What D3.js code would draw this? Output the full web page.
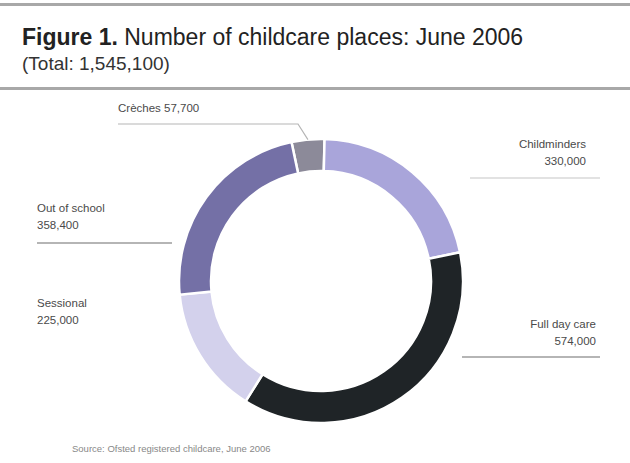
<!DOCTYPE html>
<html>
<head>
<meta charset="utf-8">
<script src="https://cdn.jsdelivr.net/npm/d3@7"></script>
<style>
  html, body { margin: 0; padding: 0; background: #fff; }
  svg { display: block; }
</style>
</head>
<body>
<svg id="chart" width="630" height="463"></svg>
<script>
// Childcare places by provision type, June 2006
const categories = ["Crèches", "Childminders", "Full day care", "Sessional", "Out of school"];
const places = [57700, 330000, 574000, 225000, 358400];
const valueLabels = ["57,700", "330,000", "574,000", "225,000", "358,400"];
const colors = ["#8c8a99", "#a9a5da", "#1f2427", "#d3d1ec", "#7470a6"];

const svg = d3.select("#chart");
const font = "'Liberation Sans', Arial, sans-serif";

// frame rules
svg.append("rect").attr("x", 0).attr("y", 3).attr("width", 630).attr("height", 3).attr("fill", "#a8a8a8");
svg.append("rect").attr("x", 0).attr("y", 87).attr("width", 630).attr("height", 3).attr("fill", "#a8a8a8");

// title
const title = svg.append("text").attr("x", 22).attr("y", 45)
  .attr("font-family", font).attr("font-size", 23).attr("fill", "#222");
title.append("tspan").attr("font-weight", "bold").text("Figure 1. ");
title.append("tspan").text("Number of childcare places: June 2006");
svg.append("text").attr("x", 22).attr("y", 70)
  .attr("font-family", font).attr("font-size", 19).attr("fill", "#333")
  .text("(Total: 1,545,100)");

// donut
const cx = 321, cy = 281;
const outerR = 142, innerR = 110;
const pie = d3.pie().sort(null).value(d => d)
  .startAngle(-12 * Math.PI / 180).endAngle(348 * Math.PI / 180);
const arc = d3.arc().innerRadius(innerR).outerRadius(outerR);
const arcs = pie(places);

const g = svg.append("g").attr("transform", `translate(${cx},${cy})`);
g.selectAll("path").data(arcs).join("path")
  .attr("d", arc)
  .attr("fill", (d, i) => colors[i])
  .attr("stroke", "#fff").attr("stroke-width", 2.5);

// labels with leader rules
const labelStyle = sel => sel.attr("font-family", font).attr("font-size", 11.5).attr("fill", "#4a4a4a");
const ruleColor = "#b5b5b5";

function label(lines, x, y, anchor) {
  const t = svg.append("text").attr("x", x).attr("y", y).attr("text-anchor", anchor).call(labelStyle);
  lines.forEach((s, i) => t.append("tspan").attr("x", x).attr("dy", i === 0 ? 0 : 17).text(s));
}

// Crèches (top)
label([categories[0] + "  " + valueLabels[0]], 118, 112, "start");
const crechesMid = (arcs[0].startAngle + arcs[0].endAngle) / 2;
svg.append("polyline")
  .attr("points", `118,124 298,124 ${cx + Math.sin(crechesMid) * outerR},${cy - Math.cos(crechesMid) * outerR}`)
  .attr("fill", "none").attr("stroke", ruleColor).attr("stroke-width", 1.2);

// Childminders (right top)
label([categories[1], valueLabels[1]], 586, 148, "end");
svg.append("line").attr("x1", 470).attr("x2", 600).attr("y1", 178).attr("y2", 178)
  .attr("stroke", "#d8d8d8").attr("stroke-width", 1.5);

// Full day care (right bottom)
label([categories[2], valueLabels[2]], 596, 328, "end");
svg.append("line").attr("x1", 462).attr("x2", 600).attr("y1", 357).attr("y2", 357)
  .attr("stroke", ruleColor).attr("stroke-width", 2);

// Sessional (left bottom)
label([categories[3], valueLabels[3]], 37, 307, "start");

// Out of school (left top)
label([categories[4], valueLabels[4]], 37, 212, "start");
svg.append("line").attr("x1", 37).attr("x2", 172).attr("y1", 243).attr("y2", 243)
  .attr("stroke", ruleColor).attr("stroke-width", 2);

// source note
svg.append("text").attr("x", 72).attr("y", 452)
  .attr("font-family", font).attr("font-size", 9.5).attr("fill", "#888")
  .text("Source: Ofsted registered childcare, June 2006");
</script>
</body>
</html>
